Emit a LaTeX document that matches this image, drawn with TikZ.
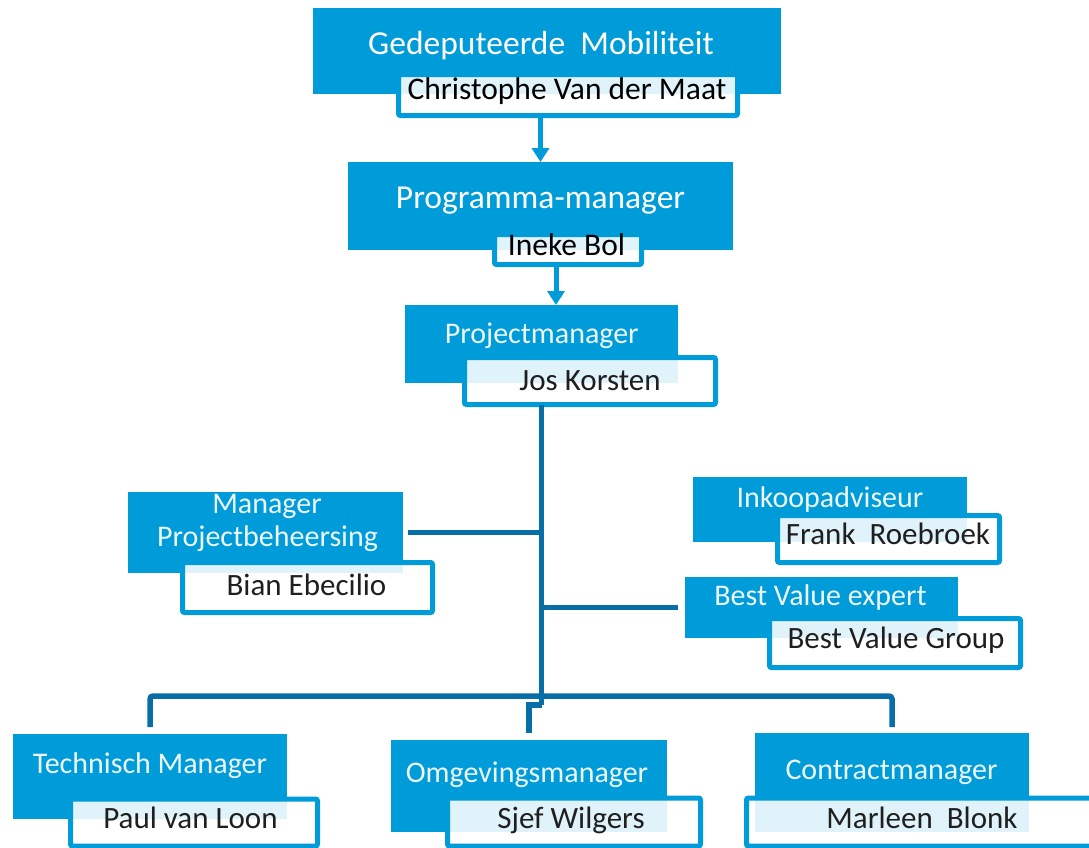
\documentclass[tikz,border=0pt]{standalone}
\usepackage{fontspec}
\setmainfont{Carlito}
\usetikzlibrary{arrows.meta}
\definecolor{boxblue}{RGB}{0,155,217}
\definecolor{linkblue}{RGB}{8,110,168}
\definecolor{softwhite}{RGB}{236,246,252}
\tikzset{
 bluebox/.style={fill=boxblue, inner sep=0pt, outer sep=0pt},
 namebox/.style={draw=boxblue, line width=5pt, fill=white, fill opacity=0.88, draw opacity=1, rounded corners=2pt, inner sep=0pt, outer sep=0pt},
 bigtitle/.style={text=white, font=\fontsize{33.5}{36}\selectfont, anchor=base, inner sep=0pt},
 subtitle/.style={text=softwhite, font=\fontsize{30}{33}\selectfont, anchor=base, inner sep=0pt},
 bigname/.style={text=black, font=\fontsize{31.5}{34}\selectfont, anchor=base, inner sep=0pt},
 pname/.style={text=black!88, font=\fontsize{31}{34}\selectfont, anchor=base, inner sep=0pt},
 conn/.style={draw=linkblue, line width=5.5pt},
 arr/.style={draw=boxblue, line width=5pt, -{Triangle[width=17pt,length=14pt]}},
}
\begin{document}
\begin{tikzpicture}[x=1pt,y=-1pt]
\clip (0,0) rectangle (1089,847);
\fill[white] (0,0) rectangle (1089,847);

% blue boxes
\node[bluebox, minimum width=468pt, minimum height=86pt] (gm) at (547,51) {};
\node[bluebox, minimum width=385pt, minimum height=88pt] (pm) at (540.5,206) {};
\node[bluebox, minimum width=273pt, minimum height=78pt] (prj) at (541.5,344) {};
\node[bluebox, minimum width=275pt, minimum height=81pt] (mpb) at (265.5,532.5) {};
\node[bluebox, minimum width=274pt, minimum height=65pt] (ink) at (830,509.5) {};
\node[bluebox, minimum width=273pt, minimum height=61pt] (bve) at (821.5,607.5) {};
\node[bluebox, minimum width=274pt, minimum height=85pt] (tm) at (150,776.5) {};
\node[bluebox, minimum width=276pt, minimum height=92pt] (om) at (529,786) {};
\node[bluebox, minimum width=274pt, minimum height=99pt] (cm) at (892,782.5) {};

% name boxes
\node[namebox, minimum width=339pt, minimum height=41pt] (cvm) at (568,95) {};
\node[namebox, minimum width=147pt, minimum height=30pt] (ib) at (568,249.5) {};
\node[namebox, minimum width=251pt, minimum height=47pt] (jk) at (590,381) {};
\node[namebox, minimum width=250pt, minimum height=50pt] (be) at (307.5,587.5) {};
\node[namebox, minimum width=222pt, minimum height=47pt] (fr) at (888.5,539) {};
\node[namebox, minimum width=251pt, minimum height=49pt] (bvg) at (895,643) {};
\node[namebox, minimum width=247pt, minimum height=47pt] (pvl) at (194,822.5) {};
\node[namebox, minimum width=253pt, minimum height=48pt] (sw) at (574,822) {};
\node[namebox, minimum width=351pt, minimum height=48pt] (mb) at (922,822) {};

% arrows
\draw[arr] (pm.north |- cvm.south) -- (pm.north);
\draw[arr] ([xshift=-12pt]ib.south) -- ([xshift=-12pt]ib.south |- prj.north);

% connectors
\coordinate (split) at (541.5,705);
\draw[conn] (prj.south |- jk.south) -- (split);
\draw[conn] (split) -| ([yshift=7pt]om.north);
\draw[conn] ([xshift=5pt]mpb.east) -- (mpb.east -| prj.south);
\draw[conn] (bve.west -| prj.south) -- ([xshift=-7pt]bve.west);
\coordinate (bar) at (541.5,696);
\draw[conn, rounded corners=3pt] ([yshift=7pt]tm.north) |- (bar) -| ([yshift=6pt]cm.north);

% texts
\node[bigtitle] (gmt) at (541,54) {Gedeputeerde~~Mobiliteit};
\node[bigname] (cvmt) at (567,99) {Christophe Van der Maat};
\node[bigtitle] (pmt) at (540.5,208) {Programma-manager};
\node[bigname] (ibt) at (566.5,255) {Ineke Bol};
\node[subtitle] (prjt) at (541.7,343) {Projectmanager};
\node[pname] (jkt) at (590,390) {Jos Korsten};
\node[subtitle] (mpbt1) at (267,513) {Manager};
\node[subtitle] (mpbt2) at (267.5,546) {Projectbeheersing};
\node[pname] (bet) at (306.5,595) {Bian Ebecilio};
\node[subtitle] (inkt) at (830,507) {Inkoopadviseur};
\node[pname] (frt) at (888,544) {Frank~~Roebroek};
\node[subtitle] (bvet) at (820.5,605) {Best Value expert};
\node[pname] (bvgt) at (896,648) {Best Value Group};
\node[subtitle] (tmt) at (150,773) {Technisch Manager};
\node[pname] (pvlt) at (190.5,828) {Paul van Loon};
\node[subtitle] (omt) at (527,782) {Omgevingsmanager};
\node[pname] (swt) at (571,828) {Sjef Wilgers};
\node[subtitle] (cmt) at (891.5,779) {Contractmanager};
\node[pname] (mbt) at (922,828) {Marleen~~Blonk};
\end{tikzpicture}
\end{document}
